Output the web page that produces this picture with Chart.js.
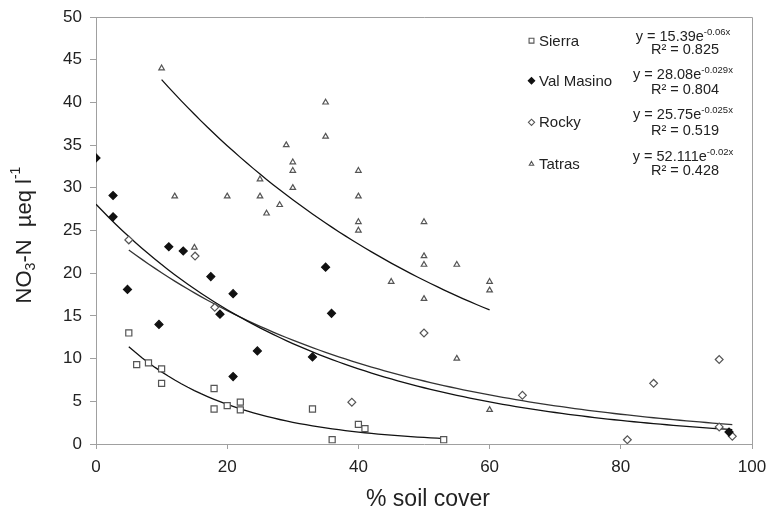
<!DOCTYPE html>
<html>
<head>
<meta charset="utf-8">
<script src="https://cdn.jsdelivr.net/npm/chart.js@4"></script>
<style>
html, body { margin: 0; padding: 0; background: #fff; }
</style>
</head>
<body>
<canvas id="grafico" width="769" height="511"></canvas>
<script>
const FONTE = "'Liberation Sans', Arial, sans-serif";

// pontos medidos por região
const sierraX = [5, 6.2, 8, 10, 10, 18, 18, 20, 22, 22, 33, 36, 40, 41, 53];
const sierraY = [13, 9.3, 9.5, 8.8, 7.1, 6.5, 4.1, 4.5, 4.9, 4, 4.1, 0.5, 2.3, 1.8, 0.5];

const valX = [0, 2.6, 2.6, 4.8, 9.6, 11.1, 13.3, 17.5, 18.9, 20.9, 20.9, 24.6, 33, 35, 35.9, 96.5];
const valY = [33.5, 29.1, 26.6, 18.1, 14, 23.1, 22.6, 19.6, 15.2, 17.6, 7.9, 10.9, 10.2, 20.7, 15.3, 1.4];

const rockyX = [5, 15.1, 18.1, 39, 50, 65, 81, 85, 95, 95, 97];
const rockyY = [23.9, 22, 16, 4.9, 13, 5.7, 0.5, 7.1, 9.9, 2, 0.9];

const tatrasX = [10, 12, 15, 20, 25, 25, 26, 28, 29, 30, 30, 30, 35, 35, 40, 40, 40, 40, 45, 50, 50, 50, 50, 55, 55, 60, 60, 60];
const tatrasY = [44, 29, 23, 29, 31, 29, 27, 28, 35, 33, 32, 30, 40, 36, 32, 29, 26, 25, 19, 26, 22, 21, 17, 21, 10, 19, 18, 4];

// ajustes exponenciais y = a·e^(b·x)
const regioes = ["Sierra", "Val Masino", "Rocky", "Tatras"];
const fitA = [15.39, 28.08, 25.75, 52.111];
const fitB = [-0.06, -0.029, -0.025, -0.02];
const fitAText = ["15.39", "28.08", "25.75", "52.111"];
const fitBText = ["-0.06x", "-0.029x", "-0.025x", "-0.02x"];
const fitR2 = ["0.825", "0.804", "0.519", "0.428"];
const fitDe = [5, 0, 5, 10];
const fitAte = [53, 97, 97, 60];

const yTicks = [0, 5, 10, 15, 20, 25, 30, 35, 40, 45, 50];
const xTicks = [0, 20, 40, 60, 80, 100];

const pares = (xs, ys) => xs.map((x, i) => ({ x, y: ys[i] }));

function curva(i) {
    const pts = [];
    for (let x = fitDe[i]; x <= fitAte[i]; x += 1) {
        pts.push({ x, y: fitA[i] * Math.exp(fitB[i] * x) });
    }
    return pts;
}

const estilos = [
    { pointStyle: "rect", radius: 4.3, bg: "#fff", borda: "#555" },
    { pointStyle: "rectRot", radius: 4, bg: "#111", borda: "#111" },
    { pointStyle: "rectRot", radius: 3.9, bg: "#fff", borda: "#555" },
    { pointStyle: "triangle", radius: 3.2, bg: "#fff", borda: "#555" }
];

const series = [pares(sierraX, sierraY), pares(valX, valY), pares(rockyX, rockyY), pares(tatrasX, tatrasY)];

const datasets = [];
series.forEach((dados, i) => {
    const e = estilos[i];
    datasets.push({
        label: regioes[i],
        data: dados,
        pointStyle: e.pointStyle,
        pointRadius: e.radius,
        pointBackgroundColor: e.bg,
        pointBorderColor: e.borda,
        pointBorderWidth: 1.2,
        showLine: false
    });
});
regioes.forEach((r, i) => {
    datasets.push({
        label: r + " ajuste",
        data: curva(i),
        showLine: true,
        borderColor: i === 2 ? "#333" : "#111",
        borderWidth: 1.3,
        pointRadius: 0,
        tension: 0
    });
});

// moldura, títulos dos eixos e legenda com as equações
const extras = {
    id: "extras",
    afterDraw(chart) {
        const ctx = chart.ctx;
        const a = chart.chartArea;
        ctx.save();

        ctx.strokeStyle = "#a0a0a0";
        ctx.lineWidth = 1;
        ctx.beginPath();
        ctx.moveTo(a.left, a.top + 0.5);
        ctx.lineTo(a.right + 0.5, a.top + 0.5);
        ctx.lineTo(a.right + 0.5, a.bottom);
        ctx.stroke();

        ctx.fillStyle = "#222";

        // título do eixo x
        ctx.font = `23px ${FONTE}`;
        ctx.textAlign = "center";
        ctx.textBaseline = "alphabetic";
        ctx.fillText("% soil cover", 428, 506);

        // título do eixo y, com índice e expoente
        ctx.save();
        ctx.translate(23, 235);
        ctx.rotate(-Math.PI / 2);
        ctx.textAlign = "left";
        const partes = [
            { t: "NO", f: 22, dy: 0 },
            { t: "3", f: 14, dy: 4 },
            { t: "-N  \u00b5eq l", f: 22, dy: 0 },
            { t: "-1", f: 14, dy: -11 }
        ];
        let total = 0;
        partes.forEach(p => {
            ctx.font = `${p.f}px ${FONTE}`;
            p.w = ctx.measureText(p.t).width;
            total += p.w;
        });
        let cx = -total / 2;
        partes.forEach(p => {
            ctx.font = `${p.f}px ${FONTE}`;
            ctx.fillText(p.t, cx, 8 + p.dy);
            cx += p.w;
        });
        ctx.restore();

        // legenda
        const legY = [40.7, 80.7, 122.3, 164];
        const eqY = [41, 79, 119, 161];
        const r2Y = [53.5, 94, 135, 175];
        regioes.forEach((nome, i) => {
            const e = estilos[i];
            ctx.lineWidth = 1.1;
            ctx.fillStyle = e.bg;
            ctx.strokeStyle = e.borda;
            Chart.helpers.drawPoint(ctx, {
                pointStyle: e.pointStyle,
                radius: e.radius * 0.8,
                rotation: 0,
                borderWidth: 1.1
            }, 531.5, legY[i]);

            ctx.fillStyle = "#222";
            ctx.font = `15px ${FONTE}`;
            ctx.textAlign = "left";
            ctx.textBaseline = "middle";
            ctx.fillText(nome, 539, legY[i] + 1);

            // equação
            ctx.textBaseline = "alphabetic";
            ctx.font = `14.5px ${FONTE}`;
            const base = `y = ${fitAText[i]}e`;
            const wb = ctx.measureText(base).width;
            ctx.font = `9.5px ${FONTE}`;
            const ws = ctx.measureText(fitBText[i]).width;
            const x0 = 683 - (wb + ws) / 2;
            ctx.font = `14.5px ${FONTE}`;
            ctx.fillText(base, x0, eqY[i]);
            ctx.font = `9.5px ${FONTE}`;
            ctx.fillText(fitBText[i], x0 + wb, eqY[i] - 6.5);

            ctx.font = `14.5px ${FONTE}`;
            ctx.textAlign = "center";
            ctx.fillText(`R\u00b2 = ${fitR2[i]}`, 685, r2Y[i]);
        });

        ctx.restore();
    }
};

new Chart(document.getElementById("grafico"), {
    type: "scatter",
    data: { datasets },
    options: {
        responsive: false,
        animation: false,
        layout: { padding: { top: 17, right: 17, left: 0, bottom: 0 } },
        plugins: {
            legend: { display: false },
            tooltip: { enabled: false }
        },
        scales: {
            x: {
                type: "linear",
                min: 0,
                max: 100,
                afterFit: s => {
                    s.height = 67;
                    s.paddingLeft = 0;
                    s.paddingRight = 0;
                },
                afterBuildTicks: s => { s.ticks = xTicks.map(v => ({ value: v })); },
                ticks: {
                    color: "#222",
                    font: { size: 17, family: FONTE },
                    padding: 8,
                    maxRotation: 0
                },
                grid: {
                    drawOnChartArea: false,
                    drawTicks: true,
                    tickLength: 5,
                    color: "#a0a0a0"
                },
                border: { color: "#a0a0a0", width: 1 }
            },
            y: {
                type: "linear",
                min: 0,
                max: 50,
                afterFit: s => {
                    s.width = 96;
                    s.paddingTop = 0;
                    s.paddingBottom = 0;
                },
                afterBuildTicks: s => { s.ticks = yTicks.map(v => ({ value: v })); },
                ticks: {
                    color: "#222",
                    font: { size: 17, family: FONTE },
                    padding: 8
                },
                grid: {
                    drawOnChartArea: false,
                    drawTicks: true,
                    tickLength: 6,
                    color: "#a0a0a0"
                },
                border: { color: "#a0a0a0", width: 1 }
            }
        }
    },
    plugins: [extras]
});
</script>
</body>
</html>
